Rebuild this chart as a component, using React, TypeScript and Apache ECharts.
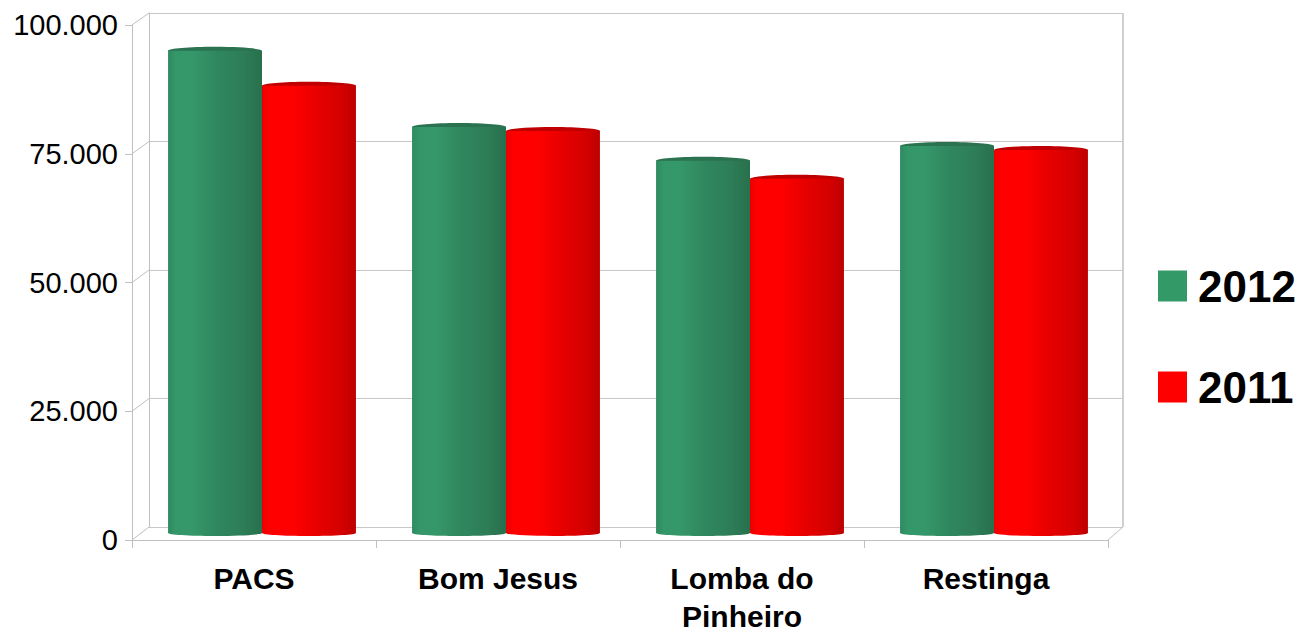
import React, { useEffect, useRef } from "react";
import * as echarts from "echarts";

// Chart data
const categories = ["PACS", "Bom Jesus", "Lomba do\nPinheiro", "Restinga"];
const seriesNames = ["2012", "2011"];
const values2012 = [93800, 79000, 72400, 75300];
const values2011 = [87000, 78200, 68900, 74500];
const yTickValues = [0, 25000, 50000, 75000, 100000];
const yTickLabels = ["0", "25.000", "50.000", "75.000", "100.000"];

const FONT = "'Liberation Sans', Arial, sans-serif";
const FRAME = "#c0c0c0";

// Front plane (axes), back wall (grid lines) and the mid-depth plane where the columns stand
const FRONT = { left: 132, top: 25, width: 976, height: 515 };
const BACK = { left: 149, top: 13, width: 974, height: 514 };
const MID = { left: 140, top: 19, width: 976, height: 514 };
const Y_MAX = 100000;

const palettes = [
  {
    solid: "#339966",
    cap: "#2a7250",
    stops: [
      [0, "#2f8a5e"],
      [0.08, "#34976a"],
      [0.25, "#35986a"],
      [0.5, "#30885f"],
      [0.8, "#2d7d57"],
      [1, "#28704d"],
    ],
  },
  {
    solid: "#ff0000",
    cap: "#c00000",
    stops: [
      [0, "#e80000"],
      [0.08, "#ff0000"],
      [0.35, "#fd0000"],
      [0.6, "#e60000"],
      [0.85, "#d40000"],
      [1, "#bd0000"],
    ],
  },
];

function cylinderRenderer(k: number) {
  const pal = palettes[k];
  const fill = {
    type: "linear",
    x: 0,
    y: 0,
    x2: 1,
    y2: 0,
    colorStops: pal.stops.map(([offset, color]) => ({ offset, color })),
  };
  return (params: any, api: any) => {
    const cat = api.value(0);
    const val = api.value(1);
    const top = api.coord([cat, val]);
    const base = api.coord([cat, 0]);
    const band = api.size([1, 0])[0];
    const w = band * 0.385;
    const left = k === 0 ? top[0] - w : top[0];
    const cx = left + w / 2;
    return {
      type: "group",
      children: [
        {
          type: "ellipse",
          shape: { cx, cy: top[1], rx: w / 2, ry: 4 },
          style: { fill: pal.cap },
        },
        {
          type: "ellipse",
          shape: { cx, cy: base[1], rx: w / 2, ry: 3 },
          style: { fill },
        },
        {
          type: "rect",
          shape: { x: left, y: top[1], width: w, height: base[1] - top[1] },
          style: { fill },
        },
      ],
    };
  };
}

function frameGraphics() {
  const dx = BACK.left - FRONT.left;
  const lines: any[] = [];
  const frontY = (v: number) => FRONT.top + FRONT.height * (1 - v / Y_MAX);
  const backY = (v: number) => BACK.top + BACK.height * (1 - v / Y_MAX);
  yTickValues.forEach((v) => {
    lines.push({
      type: "line",
      shape: { x1: FRONT.left, y1: frontY(v), x2: FRONT.left + dx, y2: backY(v) },
      style: { stroke: FRAME, lineWidth: 1 },
      silent: true,
    });
  });
  const rightFront = FRONT.left + FRONT.width;
  const rightBack = BACK.left + BACK.width;
  lines.push({
    type: "line",
    shape: { x1: rightFront, y1: frontY(0), x2: rightBack, y2: backY(0) },
    style: { stroke: FRAME, lineWidth: 1 },
    silent: true,
  });
  lines.push({
    type: "line",
    shape: { x1: rightBack, y1: backY(Y_MAX), x2: rightBack, y2: backY(0) },
    style: { stroke: FRAME, lineWidth: 1.5 },
    silent: true,
  });
  return lines;
}

function buildOption() {
  return {
    animation: false,
    backgroundColor: "#ffffff",
    textStyle: { fontFamily: FONT },
    grid: [
      { ...BACK, outerBoundsMode: "none" },
      { ...FRONT, outerBoundsMode: "none" },
      { ...MID, outerBoundsMode: "none" },
    ],
    xAxis: [
      {
        gridIndex: 0,
        type: "category",
        data: categories,
        show: true,
        axisLine: { show: false },
        axisTick: { show: false },
        axisLabel: { show: false },
        splitLine: { show: false },
      },
      {
        gridIndex: 1,
        type: "category",
        data: categories,
        boundaryGap: true,
        axisLine: { show: true, lineStyle: { color: FRAME, width: 1 } },
        axisTick: {
          show: true,
          length: 8,
          interval: 0,
          lineStyle: { color: FRAME },
        },
        axisLabel: {
          interval: 0,
          margin: 19,
          color: "#000000",
          fontSize: 30,
          fontWeight: "bold",
          lineHeight: 38,
          fontFamily: FONT,
        },
        splitLine: { show: false },
      },
      {
        gridIndex: 2,
        type: "category",
        data: categories,
        show: false,
      },
    ],
    yAxis: [
      {
        gridIndex: 0,
        type: "value",
        min: 0,
        max: Y_MAX,
        interval: 25000,
        axisLine: { show: true, lineStyle: { color: FRAME, width: 1 } },
        axisTick: { show: false },
        axisLabel: { show: false },
        splitLine: { show: true, lineStyle: { color: "#c8c8c8", width: 1 } },
      },
      {
        gridIndex: 1,
        type: "value",
        min: 0,
        max: Y_MAX,
        interval: 25000,
        axisLine: { show: true, lineStyle: { color: FRAME, width: 1 } },
        axisTick: { show: true, length: 7, lineStyle: { color: FRAME } },
        axisLabel: {
          margin: 14,
          color: "#000000",
          fontSize: 29,
          fontFamily: FONT,
          formatter: (_v: number, i: number) => yTickLabels[i],
        },
        splitLine: { show: false },
      },
      {
        gridIndex: 2,
        type: "value",
        min: 0,
        max: Y_MAX,
        show: false,
        splitLine: { show: false },
      },
    ],
    legend: {
      orient: "vertical",
      left: 1158,
      top: 264,
      padding: 0,
      itemWidth: 29,
      itemHeight: 31,
      itemGap: 57,
      icon: "rect",
      data: seriesNames,
      textStyle: {
        color: "#000000",
        fontSize: 44,
        fontWeight: "bold",
        lineHeight: 44,
        fontFamily: FONT,
        padding: [0, 0, 0, 6],
      },
    },
    graphic: frameGraphics(),
    series: [values2012, values2011].map((vals, k) => ({
      name: seriesNames[k],
      type: "custom",
      xAxisIndex: 2,
      yAxisIndex: 2,
      itemStyle: { color: palettes[k].solid },
      encode: { x: 0, y: 1 },
      data: vals.map((v, i) => [i, v]),
      renderItem: cylinderRenderer(k),
      z: 3,
    })),
  };
}

export default function App() {
  const ref = useRef<HTMLDivElement>(null);
  useEffect(() => {
    if (!ref.current) return;
    const chart = echarts.init(ref.current, undefined, { renderer: "svg" });
    chart.setOption(buildOption() as any);
    return () => chart.dispose();
  }, []);
  return (
    <div
      ref={ref}
      style={{ position: "fixed", left: 0, top: 0, width: 1298, height: 637, background: "#fff" }}
    />
  );
}
